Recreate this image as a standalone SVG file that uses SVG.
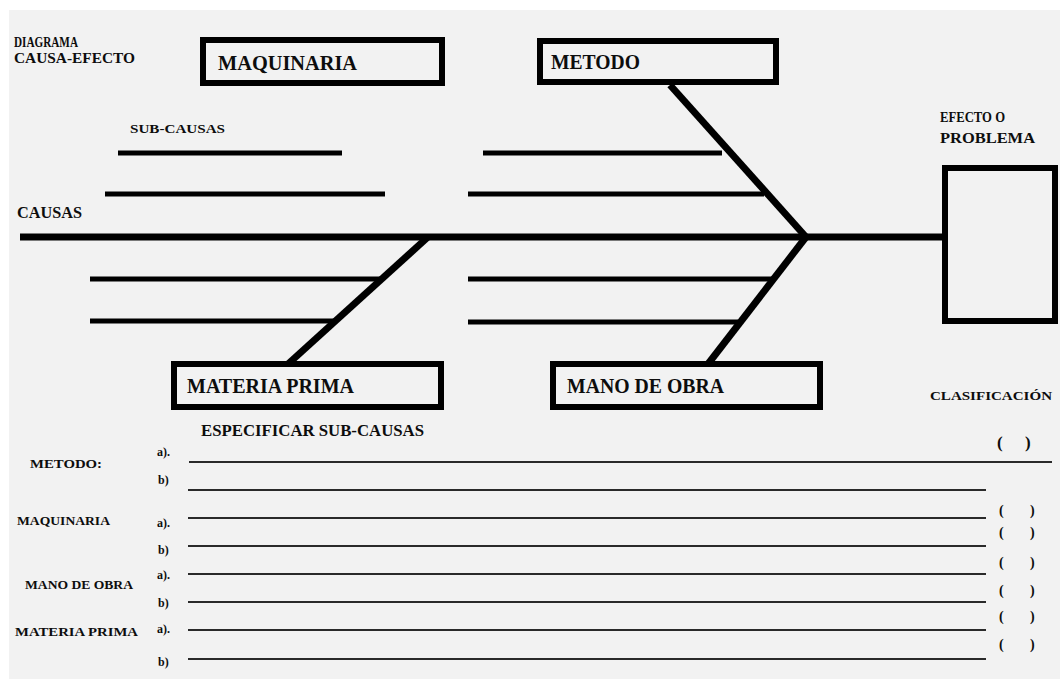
<svg xmlns="http://www.w3.org/2000/svg" width="1060" height="679" viewBox="0 0 1060 679">
  <style>
    .lbl{font-family:"Liberation Serif","Times New Roman",serif;font-weight:bold;fill:#0d0d0d}
    .box{fill:none;stroke:#000;stroke-width:6}
    .bone{stroke:#000;stroke-width:7;fill:none}
    .sub{stroke:#000;stroke-width:5}
    .rule{stroke:#2a2a2a;stroke-width:2}
  </style>

  <!-- sheet -->
  <rect x="0" y="0" width="1060" height="679" fill="#ffffff"/>
  <rect x="9" y="10" width="1051" height="669" fill="#f2f2f2"/>

  <!-- headings -->
  <g id="title">
    <text class="lbl" x="14" y="47" font-size="14" textLength="64" lengthAdjust="spacingAndGlyphs">DIAGRAMA</text>
    <text class="lbl" x="14" y="63" font-size="14" textLength="121" lengthAdjust="spacingAndGlyphs">CAUSA-EFECTO</text>
    <text class="lbl" x="130" y="133" font-size="13" textLength="95" lengthAdjust="spacingAndGlyphs">SUB-CAUSAS</text>
    <text class="lbl" x="17" y="218" font-size="16" textLength="65" lengthAdjust="spacingAndGlyphs">CAUSAS</text>
    <text class="lbl" x="940" y="122" font-size="14" textLength="65" lengthAdjust="spacingAndGlyphs">EFECTO O</text>
    <text class="lbl" x="940" y="143" font-size="14" textLength="95" lengthAdjust="spacingAndGlyphs">PROBLEMA</text>
  </g>

  <!-- spine, bones and sub-cause lines -->
  <g id="connectors">
    <line class="bone" x1="20" y1="237" x2="806" y2="237" stroke-width="8"/>
    <line class="bone" x1="806" y1="237" x2="945" y2="237" stroke-width="6"/>
    <line class="bone" x1="670" y1="85" x2="806" y2="237"/>
    <line class="bone" x1="806" y1="237" x2="708" y2="364"/>
    <line class="bone" x1="428" y1="237" x2="288" y2="364"/>

    <line class="sub" x1="118" y1="153" x2="342" y2="153"/>
    <line class="sub" x1="105" y1="194" x2="385" y2="194"/>
    <line class="sub" x1="90" y1="279" x2="382" y2="279"/>
    <line class="sub" x1="90" y1="321" x2="334" y2="321"/>

    <line class="sub" x1="483" y1="153" x2="722" y2="153"/>
    <line class="sub" x1="468" y1="194" x2="764" y2="194"/>
    <line class="sub" x1="468" y1="279" x2="772" y2="279"/>
    <line class="sub" x1="468" y1="322" x2="738" y2="322"/>
  </g>

  <g id="maquinaria">
    <rect class="box" x="203" y="40" width="239" height="43"/>
    <text class="lbl" x="218" y="70" font-size="21" textLength="139" lengthAdjust="spacingAndGlyphs">MAQUINARIA</text>
  </g>
  <g id="metodo">
    <rect class="box" x="540" y="41" width="236" height="41"/>
    <text class="lbl" x="551" y="69" font-size="21" textLength="89" lengthAdjust="spacingAndGlyphs">METODO</text>
  </g>
  <g id="materia-prima">
    <rect class="box" x="174" y="364" width="267" height="43"/>
    <text class="lbl" x="187" y="393" font-size="21" textLength="167" lengthAdjust="spacingAndGlyphs">MATERIA PRIMA</text>
  </g>
  <g id="mano-de-obra">
    <rect class="box" x="553" y="364" width="267" height="43"/>
    <text class="lbl" x="567" y="393" font-size="21" textLength="157" lengthAdjust="spacingAndGlyphs">MANO DE OBRA</text>
  </g>
  <g id="efecto">
    <rect class="box" x="945" y="168" width="110" height="153"/>
  </g>

  <!-- sub-cause form -->
  <g id="form">
    <text class="lbl" x="930" y="400" font-size="13" textLength="122" lengthAdjust="spacingAndGlyphs">CLASIFICACIÓN</text>
    <text class="lbl" x="201" y="436" font-size="16" textLength="223" lengthAdjust="spacingAndGlyphs">ESPECIFICAR SUB-CAUSAS</text>

    <text class="lbl" x="30" y="468" font-size="13" textLength="72" lengthAdjust="spacingAndGlyphs">METODO:</text>
    <text class="lbl" x="17" y="525" font-size="13" textLength="93" lengthAdjust="spacingAndGlyphs">MAQUINARIA</text>
    <text class="lbl" x="25" y="589" font-size="13" textLength="108" lengthAdjust="spacingAndGlyphs">MANO DE OBRA</text>
    <text class="lbl" x="15" y="636" font-size="13" textLength="123" lengthAdjust="spacingAndGlyphs">MATERIA PRIMA</text>

    <g font-size="12">
      <text class="lbl" x="157" y="456">a).</text>
      <text class="lbl" x="158" y="484">b)</text>
      <text class="lbl" x="157" y="527">a).</text>
      <text class="lbl" x="158" y="554">b)</text>
      <text class="lbl" x="157" y="579">a).</text>
      <text class="lbl" x="158" y="607">b)</text>
      <text class="lbl" x="157" y="633">a).</text>
      <text class="lbl" x="158" y="666">b)</text>
    </g>

    <line class="rule" x1="189" y1="462" x2="1052" y2="462"/>
    <line class="rule" x1="188" y1="490" x2="986" y2="490"/>
    <line class="rule" x1="188" y1="518" x2="986" y2="518"/>
    <line class="rule" x1="188" y1="546" x2="986" y2="546"/>
    <line class="rule" x1="188" y1="574" x2="986" y2="574"/>
    <line class="rule" x1="188" y1="602" x2="986" y2="602"/>
    <line class="rule" x1="188" y1="630" x2="986" y2="630"/>
    <line class="rule" x1="188" y1="659" x2="986" y2="659"/>

    <text class="lbl" x="997" y="448" font-size="17">(</text>
    <text class="lbl" x="1025" y="448" font-size="17">)</text>
    <g font-size="14">
      <text class="lbl" x="999" y="515">(</text><text class="lbl" x="1030" y="515">)</text>
      <text class="lbl" x="999" y="537">(</text><text class="lbl" x="1030" y="537">)</text>
      <text class="lbl" x="999" y="567">(</text><text class="lbl" x="1030" y="567">)</text>
      <text class="lbl" x="999" y="595">(</text><text class="lbl" x="1030" y="595">)</text>
      <text class="lbl" x="999" y="621">(</text><text class="lbl" x="1030" y="621">)</text>
      <text class="lbl" x="999" y="649">(</text><text class="lbl" x="1030" y="649">)</text>
    </g>
  </g>
</svg>
